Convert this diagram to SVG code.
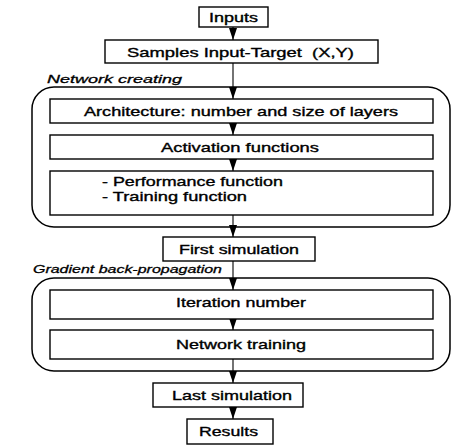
<svg xmlns="http://www.w3.org/2000/svg" width="474" height="447" viewBox="0 0 474 447">
<style>
.box{fill:#fff;stroke:#000;stroke-width:1.4}
.grp{fill:none;stroke:#000;stroke-width:1.5}
.t{font-family:"Liberation Sans",Arial,sans-serif;font-size:13px;fill:#000;stroke:#000;stroke-width:0.35}
.lab{font-family:"Liberation Sans",Arial,sans-serif;font-size:11.5px;font-style:italic;fill:#000;stroke:#000;stroke-width:0.3}
.c{fill:none;stroke:#000;stroke-width:1.1}
</style>
<defs>
<marker id="ah" viewBox="0 0 12 8" refX="12" refY="4" markerWidth="12" markerHeight="8" markerUnits="userSpaceOnUse" orient="auto">
<path d="M0,0 L12,4 L0,8 Z" fill="#000"/>
</marker>
</defs>
<rect width="474" height="447" fill="#fff"/>
<g id="group-network-creating">
<rect class="grp" x="32" y="87" width="418" height="140" rx="22" ry="22"/>
<text class="lab" x="47" y="83" textLength="135" lengthAdjust="spacingAndGlyphs">Network creating</text>
</g>
<g id="group-gradient">
<rect class="grp" x="32" y="278" width="418" height="93" rx="22" ry="22"/>
<text class="lab" x="33" y="273" textLength="189" lengthAdjust="spacingAndGlyphs">Gradient back-propagation</text>
</g>
<g id="connectors">
<line class="c" x1="233" y1="27" x2="233" y2="40" marker-end="url(#ah)"/>
<line class="c" x1="233" y1="63" x2="233" y2="99" marker-end="url(#ah)"/>
<line class="c" x1="233" y1="123" x2="233" y2="135" marker-end="url(#ah)"/>
<line class="c" x1="233" y1="159" x2="233" y2="171" marker-end="url(#ah)"/>
<line class="c" x1="233" y1="215" x2="233" y2="237" marker-end="url(#ah)"/>
<line class="c" x1="233" y1="261" x2="233" y2="290" marker-end="url(#ah)"/>
<line class="c" x1="233" y1="319" x2="233" y2="330" marker-end="url(#ah)"/>
<line class="c" x1="233" y1="359" x2="233" y2="383" marker-end="url(#ah)"/>
<line class="c" x1="233" y1="407" x2="233" y2="419" marker-end="url(#ah)"/>
</g>
<g id="inputs">
<rect class="box" x="199" y="7" width="69" height="20"/>
<text class="t" x="209" y="22" textLength="49" lengthAdjust="spacingAndGlyphs">Inputs</text>
</g>
<g id="samples">
<rect class="box" x="105" y="40" width="273" height="23"/>
<text class="t" x="127" y="57" textLength="227" lengthAdjust="spacingAndGlyphs">Samples Input-Target &#160;(X,Y)</text>
</g>
<g id="architecture">
<rect class="box" x="50" y="99" width="383" height="24"/>
<text class="t" x="84" y="116" textLength="314" lengthAdjust="spacingAndGlyphs">Architecture: number and size of layers</text>
</g>
<g id="activation">
<rect class="box" x="50" y="135" width="383" height="24"/>
<text class="t" x="161" y="152" textLength="158" lengthAdjust="spacingAndGlyphs">Activation functions</text>
</g>
<g id="functions">
<rect class="box" x="50" y="171" width="383" height="44"/>
<text class="t" x="102" y="186" textLength="181" lengthAdjust="spacingAndGlyphs">- Performance function</text>
<text class="t" x="102" y="201" textLength="145" lengthAdjust="spacingAndGlyphs">- Training function</text>
</g>
<g id="first-simulation">
<rect class="box" x="163" y="237" width="152" height="24"/>
<text class="t" x="179" y="254" textLength="120" lengthAdjust="spacingAndGlyphs">First simulation</text>
</g>
<g id="iteration">
<rect class="box" x="50" y="290" width="383" height="29"/>
<text class="t" x="176" y="307" textLength="130" lengthAdjust="spacingAndGlyphs">Iteration number</text>
</g>
<g id="network-training">
<rect class="box" x="50" y="330" width="383" height="29"/>
<text class="t" x="176" y="349" textLength="130" lengthAdjust="spacingAndGlyphs">Network training</text>
</g>
<g id="last-simulation">
<rect class="box" x="153" y="383" width="150" height="24"/>
<text class="t" x="172" y="400" textLength="120" lengthAdjust="spacingAndGlyphs">Last simulation</text>
</g>
<g id="results">
<rect class="box" x="187" y="419" width="86" height="25"/>
<text class="t" x="199" y="436" textLength="59" lengthAdjust="spacingAndGlyphs">Results</text>
</g>
</svg>
